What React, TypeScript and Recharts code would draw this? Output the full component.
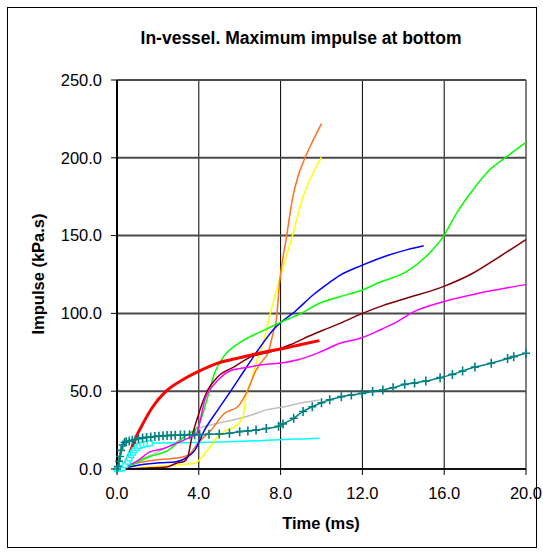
import { CartesianGrid, Line, LineChart, XAxis, YAxis } from "recharts";

// time axis (ms) and impulse axis (kPa.s) ticks
const timeTicks = [0, 4, 8, 12, 16, 20];
const impulseTicks = [0, 50, 100, 150, 200, 250];

const grayT = [0, 0.5, 1.0, 2.0, 3.0, 3.8, 4.93, 5.66, 6.57, 7.3, 8.2, 8.93, 9.9];
const grayV = [0, 2, 5, 11, 18, 25, 29.4, 31.5, 34.7, 38, 40, 42.2, 44.3];

const cyanT = [0, 0.15, 0.28, 0.4, 0.53, 0.61, 0.69, 0.78, 0.86, 0.98, 1.1, 1.25, 1.43, 1.6, 2.08, 3.3, 4.5, 5.75, 7.0, 8.2, 9.0, 9.9];
const cyanV = [0, 0.2, 0.5, 2.5, 4.7, 6.8, 9, 10.5, 12, 13.6, 14.8, 15.6, 16, 16.5, 16.7, 16.9, 17.2, 17.6, 18.2, 19, 19.3, 19.7];

const yellowT = [0, 1.0, 1.75, 2.9, 3.8, 4.3, 4.93, 5.35, 5.75, 6.16, 6.3, 6.57, 6.8, 7.14, 7.46, 7.95, 8.6, 9.1, 9.58, 10.0];
const yellowV = [0, 0.5, 1.5, 2.6, 3.7, 10, 20.8, 25, 27, 33.6, 46.5, 57, 68, 80.8, 98, 122, 151, 175, 190, 200.5];

const orangeT = [0, 0.5, 0.94, 1.9, 2.9, 3.5, 3.95, 4.6, 5.26, 5.9, 6.4, 6.8, 7.14, 7.38, 7.63, 7.8, 7.95, 8.3, 8.6, 8.85, 9.1, 9.58, 10.0];
const orangeV = [0, 2, 3.7, 5.8, 7, 9, 16.5, 25, 35.8, 40, 50.8, 63.6, 70, 74.4, 87.2, 97, 120, 150, 175, 188, 197, 211, 222];

const blueT = [0, 0.5, 1.1, 2.08, 2.9, 3.47, 3.8, 4.28, 4.93, 5.6, 6.24, 6.9, 7.63, 8.77, 9.6, 10.4, 10.9, 12.0, 13.3, 14.2, 15.0];
const blueV = [0, 1, 2.6, 4, 4.7, 8, 12, 25, 38, 50.8, 63.6, 76.5, 89.3, 102, 112, 120, 124.5, 131, 137.5, 141, 143.5];

const greenT = [0, 0.6, 1.6, 2.5, 3.3, 3.95, 4.44, 4.77, 5.26, 6.08, 7.2, 7.95, 9.0, 9.9, 10.9, 12.0, 12.85, 14.15, 15.1, 15.95, 16.6, 17.4, 18.2, 19.05, 20.0];
const greenV = [0, 2, 8, 12, 21, 27, 46.5, 61.5, 73, 81.8, 89.3, 94, 100, 106.5, 110.7, 115, 120, 126.8, 136.4, 149.3, 164.3, 179.3, 192, 200.7, 210];

const maroonT = [0, 1.26, 2.5, 2.9, 3.3, 3.47, 3.63, 3.95, 4.44, 4.93, 5.75, 6.57, 7.55, 8.5, 9.4, 10.3, 10.9, 12.0, 13.0, 14.15, 15.95, 17.4, 18.7, 20.0];
const maroonV = [0, 0.5, 1.5, 3.7, 5, 8, 18.6, 33.6, 50.8, 59.3, 65.8, 72.2, 75.5, 80, 85.5, 90.4, 93.6, 100, 105, 109.7, 117.2, 125.8, 136.4, 147.5];

const magentaT = [0, 0.5, 0.94, 1.6, 2.24, 3.0, 3.5, 3.88, 4.1, 4.28, 4.6, 4.93, 5.5, 6.24, 7.1, 8.2, 8.8, 9.9, 10.9, 11.9, 12.85, 13.7, 14.5, 15.95, 17.7, 20.0];
const magentaV = [0, 2, 4.7, 11, 13, 17, 20, 22.5, 33, 44, 52, 57, 63, 65, 67, 68.5, 70, 75, 80.8, 84, 89.3, 94.7, 101, 107.5, 113, 118.5];

const redT = [0, 0.28, 0.45, 0.61, 0.94, 1.26, 1.75, 2.4, 3.3, 4.04, 4.93, 5.66, 6.57, 7.3, 8.2, 9.0, 9.9];
const redV = [0, 0.5, 5, 10, 20.8, 29, 40, 50, 58, 63, 68, 70.5, 73.3, 75.4, 77.6, 80, 82.5];

const tealT = [0, 0.05, 0.1, 0.15, 0.2, 0.28, 0.37, 0.45, 0.6, 0.75, 0.9, 1.05, 1.25, 1.45, 1.65, 1.85, 2.05, 2.25, 2.45, 2.65, 2.85, 3.1, 3.3, 3.55, 3.8, 4.04, 4.5, 5.0, 5.5, 6.0, 6.4, 6.8, 7.3, 7.9, 8.12, 8.64, 9.1, 9.55, 10.0, 10.4, 10.97, 11.46, 11.98, 12.5, 13.0, 13.5, 14.07, 14.55, 15.1, 15.8, 16.4, 16.9, 17.5, 18.3, 19.1, 19.4, 20.0];
const tealV = [0, 1.5, 5, 8, 12, 15.4, 17, 17.5, 18, 18.5, 19, 19.5, 20, 20.3, 20.6, 20.9, 21.1, 21.3, 21.5, 21.6, 21.7, 21.8, 21.9, 22, 22, 22.1, 22.3, 22.5, 23, 24, 24.5, 25, 26, 27.5, 29, 32.6, 37, 40, 42.6, 44.5, 46.5, 47.6, 48.6, 49.8, 50.8, 52.2, 54.4, 55.2, 56.5, 58.7, 60.8, 63, 65.5, 68, 71, 72.2, 74.4];

const pts = (t: number[], v: number[]) => t.map((x, i) => ({ t: x, v: v[i] }));

const FONT = "'Liberation Sans', Arial, sans-serif";

const crossDot = (props: any) => {
    const { cx, cy, index } = props;
    return (
        <path key={`c${index}`} d={`M${cx - 4},${cy}H${cx + 4}M${cx},${cy - 4.5}V${cy + 4.5}`}
            stroke="#008080" strokeWidth={1.6} fill="none" />
    );
};

const squareDot = (props: any) => {
    const { cx, cy, index, payload } = props;
    if (payload.t > 1.65) return <g key={`s${index}`} />;
    return <rect key={`s${index}`} x={cx - 2.5} y={cy - 2.5} width={5} height={5} fill="#fff" stroke="#00FFFF" strokeWidth={1.3} />;
};

const series = [
    { name: "gray", data: pts(grayT, grayV), color: "#C0C0C0", width: 1.5, dot: false as any },
    { name: "cyan", data: pts(cyanT, cyanV), color: "#00FFFF", width: 1.5, dot: squareDot },
    { name: "yellow", data: pts(yellowT, yellowV), color: "#FFFF00", width: 1.5, dot: false },
    { name: "orange", data: pts(orangeT, orangeV), color: "#FF7020", width: 1.5, dot: false },
    { name: "blue", data: pts(blueT, blueV), color: "#0000FF", width: 1.5, dot: false },
    { name: "green", data: pts(greenT, greenV), color: "#00FF00", width: 1.5, dot: false },
    { name: "maroon", data: pts(maroonT, maroonV), color: "#800000", width: 1.5, dot: false },
    { name: "magenta", data: pts(magentaT, magentaV), color: "#FF00FF", width: 1.5, dot: false },
    { name: "red", data: pts(redT, redV), color: "#FF0000", width: 3, dot: false },
    { name: "teal", data: pts(tealT, tealV), color: "#008080", width: 1.5, dot: crossDot },
];

export default function App() {
    return (
        <div style={{ position: "absolute", left: 0, top: 0, width: 543, height: 553, background: "#fff" }}>
            <div style={{ position: "absolute", left: 7, top: 7, width: 530, height: 541, border: "1px solid #000", boxSizing: "border-box" }} />
            <div style={{ position: "absolute", left: 0, top: 0 }}>
                <LineChart width={543} height={553} margin={{ top: 80, right: 17, bottom: 54, left: 57 }}>
                    <CartesianGrid horizontal={false} stroke="#000" strokeWidth={1} />
                    <CartesianGrid vertical={false} stroke="#4a4a4a" strokeWidth={2} />
                    <XAxis
                        dataKey="t"
                        type="number"
                        domain={[0, 20]}
                        ticks={timeTicks}
                        allowDuplicatedCategory={false}
                        height={30}
                        tickSize={6}
                        tickMargin={12}
                        tickFormatter={(v: number) => v.toFixed(1)}
                        axisLine={{ stroke: "#000", strokeWidth: 1.5 }}
                        tickLine={{ stroke: "#000" }}
                        tick={{ fill: "#000", fontSize: 16.5, fontFamily: FONT }}
                    />
                    <YAxis
                        dataKey="v"
                        type="number"
                        domain={[0, 250]}
                        ticks={impulseTicks}
                        width={60}
                        tickSize={6}
                        tickMargin={9}
                        tickFormatter={(v: number) => v.toFixed(1)}
                        axisLine={{ stroke: "#000", strokeWidth: 2 }}
                        tickLine={{ stroke: "#000" }}
                        tick={{ fill: "#000", fontSize: 16.5, fontFamily: FONT }}
                    />
                    {series.map((s) => (
                        <Line
                            key={s.name}
                            data={s.data}
                            dataKey="v"
                            type="monotone"
                            stroke={s.color}
                            strokeWidth={s.width}
                            dot={s.dot}
                            activeDot={false}
                            isAnimationActive={false}
                        />
                    ))}
                </LineChart>
            </div>
            <svg width={543} height={553} style={{ position: "absolute", left: 0, top: 0, pointerEvents: "none" }}>
                <text x={301} y={44} textAnchor="middle" fontFamily={FONT} fontWeight="bold" fontSize={17.5} fill="#000">
                    In-vessel. Maximum impulse at bottom
                </text>
                <text x={321} y={529} textAnchor="middle" fontFamily={FONT} fontWeight="bold" fontSize={16.5} fill="#000">
                    Time (ms)
                </text>
                <text x={44} y={274} transform="rotate(-90 44 274)" textAnchor="middle" fontFamily={FONT} fontWeight="bold" fontSize={16.5} fill="#000">
                    Impulse (kPa.s)
                </text>
            </svg>
        </div>
    );
}
